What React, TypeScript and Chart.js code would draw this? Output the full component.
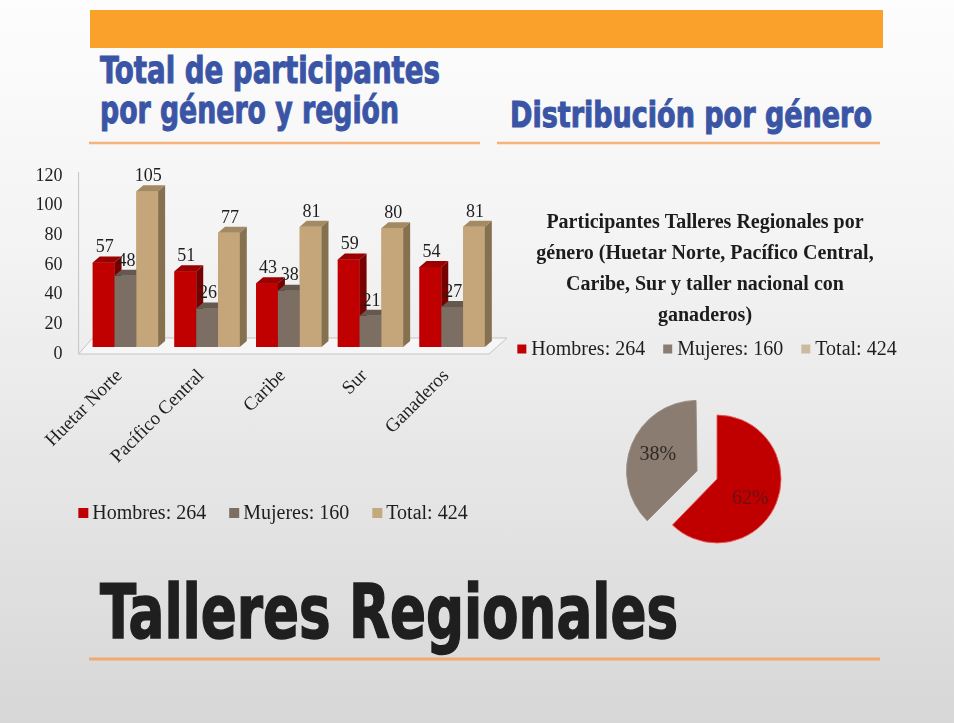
import React, { useEffect, useRef } from "react";
import { Chart, registerables } from "chart.js";
Chart.register(...registerables);

// ---------- data ----------
const regions = ["Huetar Norte", "Pacífico Central", "Caribe", "Sur", "Ganaderos"];
const seriesNames = ["Hombres", "Mujeres", "Total"];
const hombres = [57, 51, 43, 59, 54];
const mujeres = [48, 26, 38, 21, 27];
const totales = [105, 77, 81, 80, 81];
const genderTotals = [264, 160, 424];
const pieLabels = ["Hombres", "Mujeres"];
const pieValues = [264, 160];
const yMin = 0;
const yMax = 120;
const yStep = 20;
const pieTitle = [
  "Participantes Talleres Regionales por",
  "género (Huetar Norte, Pacífico Central,",
  "Caribe, Sur y taller nacional con",
  "ganaderos)",
];

// ---------- styles ----------
const SERIF = '"Liberation Serif", "Times New Roman", serif';
const COND = '"DejaVu Sans Condensed", "Liberation Sans Narrow", "DejaVu Sans", sans-serif';
const frontColors = ["#C00000", "#7D6E63", "#C4A67A"];
const topColors = ["#9A0000", "#65584E", "#A38A62"];
const sideColors = ["#780000", "#52463E", "#85704F"];
const legendColors = ["#C00000", "#7D6E63", "#C4A97F"];
const pieColors = ["#C00000", "#8A7C71"];
const pieLegendColors = ["#C00000", "#8A7C71", "#CBBB9E"];
const DX = 7;
const DY = -6;

function drawLegend(
  ctx: CanvasRenderingContext2D,
  items: { text: string; color: string }[],
  cx: number,
  cy: number,
  o: { size: number; box: number; gap: number; spacing: number; color: string }
) {
  ctx.save();
  ctx.font = `${o.size}px ${SERIF}`;
  ctx.textBaseline = "middle";
  ctx.textAlign = "left";
  const widths = items.map((it) => ctx.measureText(it.text).width);
  const total =
    widths.reduce((s, w) => s + o.box + o.gap + w, 0) + o.spacing * (items.length - 1);
  let x = cx - total / 2;
  items.forEach((it, i) => {
    ctx.fillStyle = it.color;
    ctx.fillRect(x, cy - o.box / 2, o.box, o.box);
    x += o.box + o.gap;
    ctx.fillStyle = o.color;
    ctx.fillText(it.text, x, cy + 1);
    x += widths[i] + o.spacing;
  });
  ctx.restore();
}

const bar3d = {
  id: "bar3d",
  beforeDatasetsDraw(chart: any) {
    const { ctx, chartArea: a, scales } = chart;
    const y = scales.y;
    const y0 = y.getPixelForValue(0);
    ctx.save();
    ctx.beginPath();
    ctx.moveTo(a.left - 6, y0 + 7);
    ctx.lineTo(a.right - 4, y0 + 7);
    ctx.lineTo(a.right + 14, y0 - 9);
    ctx.lineTo(a.left + 8, y0 - 9);
    ctx.closePath();
    ctx.fillStyle = "rgba(250,250,250,0.7)";
    ctx.fill();
    ctx.strokeStyle = "#c4c4c4";
    ctx.lineWidth = 1;
    ctx.stroke();
    ctx.beginPath();
    ctx.moveTo(a.left - 6, y.getPixelForValue(yMax) + 3);
    ctx.lineTo(a.left - 6, y0 + 7);
    ctx.stroke();
    ctx.restore();
  },
  afterDatasetsDraw(chart: any) {
    const { ctx } = chart;
    const n = chart.data.labels.length;
    const nd = chart.data.datasets.length;
    ctx.save();
    for (let j = 0; j < n; j++) {
      for (let i = 0; i < nd; i++) {
        const bar = chart.getDatasetMeta(i).data[j];
        const { x, y, width, base } = bar.getProps(["x", "y", "width", "base"], true);
        const l = x - width / 2;
        const r = x + width / 2;
        ctx.fillStyle = frontColors[i];
        ctx.fillRect(l, y, width, base - y);
        ctx.fillStyle = topColors[i];
        ctx.beginPath();
        ctx.moveTo(l, y);
        ctx.lineTo(l + DX, y + DY);
        ctx.lineTo(r + DX, y + DY);
        ctx.lineTo(r, y);
        ctx.closePath();
        ctx.fill();
        ctx.fillStyle = sideColors[i];
        ctx.beginPath();
        ctx.moveTo(r, y);
        ctx.lineTo(r + DX, y + DY);
        ctx.lineTo(r + DX, base + DY);
        ctx.lineTo(r, base);
        ctx.closePath();
        ctx.fill();
      }
    }
    ctx.font = `18px ${SERIF}`;
    ctx.fillStyle = "#1e1e1e";
    ctx.textAlign = "center";
    ctx.textBaseline = "middle";
    for (let i = 0; i < nd; i++) {
      const ds = chart.data.datasets[i];
      chart.getDatasetMeta(i).data.forEach((bar: any, j: number) => {
        const { x, y } = bar.getProps(["x", "y"], true);
        ctx.fillText(String(ds.data[j]), x + 1, y - 15);
      });
    }
    ctx.restore();
  },
  afterDraw(chart: any) {
    drawLegend(
      chart.ctx,
      seriesNames.map((s, i) => ({ text: `${s}: ${genderTotals[i]}`, color: legendColors[i] })),
      273,
      chart.height - 37,
      { size: 20, box: 10, gap: 4, spacing: 23, color: "#1e1e1e" }
    );
  },
};

const pieDecor = {
  id: "pieDecor",
  afterDatasetsDraw(chart: any) {
    const { ctx } = chart;
    const meta = chart.getDatasetMeta(0);
    const values = chart.data.datasets[0].data as number[];
    const sum = values.reduce((a, b) => a + b, 0);
    const colors = ["#6a1010", "#2e2a28"];
    ctx.save();
    ctx.font = `20px ${SERIF}`;
    ctx.textAlign = "center";
    ctx.textBaseline = "middle";
    meta.data.forEach((arc: any, i: number) => {
      const { x, y, startAngle, endAngle, outerRadius, circumference } = arc.getProps(
        ["x", "y", "startAngle", "endAngle", "outerRadius", "circumference"],
        true
      );
      const mid = (startAngle + endAngle) / 2;
      const off = (arc.options.offset || 0) / 4;
      const fix = 1 - Math.sin(Math.min(Math.PI, circumference));
      const t = off * (1 + fix);
      const rr = outerRadius * 0.56;
      ctx.fillStyle = colors[i];
      ctx.fillText(
        `${Math.round((values[i] / sum) * 100)}%`,
        x + Math.cos(mid) * (t + rr),
        y + Math.sin(mid) * (t + rr) + (i === 0 ? 6 : 0)
      );
    });
    ctx.restore();
  },
  afterDraw(chart: any) {
    const { ctx } = chart;
    ctx.save();
    ctx.font = `bold 20px ${SERIF}`;
    ctx.fillStyle = "#1c1c1c";
    ctx.textAlign = "center";
    ctx.textBaseline = "middle";
    pieTitle.forEach((line, k) => ctx.fillText(line, 215, 33 + 31 * k));
    ctx.restore();
    drawLegend(
      ctx,
      seriesNames.map((s, i) => ({ text: `${s}: ${genderTotals[i]}`, color: pieLegendColors[i] })),
      217,
      159,
      { size: 20, box: 9, gap: 5, spacing: 18, color: "#1e1e1e" }
    );
  },
};

function BarChart() {
  const ref = useRef<HTMLCanvasElement>(null);
  useEffect(() => {
    const seriesData = [hombres, mujeres, totales];
    const chart = new Chart(ref.current as HTMLCanvasElement, {
      type: "bar",
      data: {
        labels: regions,
        datasets: seriesNames.map((name, i) => ({
          label: name,
          data: seriesData[i],
          backgroundColor: frontColors[i],
          borderWidth: 0,
          categoryPercentage: 0.8,
          barPercentage: 1,
        })),
      },
      options: {
        responsive: false,
        animation: false,
        events: [],
        layout: { padding: { left: 35, right: 37, top: 19, bottom: 0 } },
        plugins: { legend: { display: false }, tooltip: { enabled: false } },
        scales: {
          x: {
            grid: { display: false, drawTicks: false },
            border: { display: false },
            ticks: {
              color: "#1e1e1e",
              font: { family: SERIF, size: 19 },
              minRotation: 45,
              maxRotation: 45,
              autoSkip: false,
              padding: 18,
              labelOffset: -6,
            },
            afterFit: (s: any) => {
              s.height = 203;
            },
          },
          y: {
            min: yMin,
            max: yMax,
            grid: { display: false, drawTicks: false },
            border: { display: false },
            ticks: {
              stepSize: yStep,
              color: "#1e1e1e",
              font: { family: SERIF, size: 18 },
              padding: 22,
              labelOffset: 7,
            },
            afterFit: (s: any) => {
              s.width = 49.6;
              s.paddingTop = 0;
              s.paddingBottom = 0;
            },
          },
        },
      } as any,
      plugins: [bar3d],
    });
    return () => chart.destroy();
  }, []);
  return (
    <canvas
      ref={ref}
      width={530}
      height={400}
      style={{ position: "absolute", left: 0, top: 150, width: 530, height: 400 }}
    />
  );
}

function PieChart() {
  const ref = useRef<HTMLCanvasElement>(null);
  useEffect(() => {
    const chart = new Chart(ref.current as HTMLCanvasElement, {
      type: "pie",
      data: {
        labels: pieLabels,
        datasets: [
          {
            data: pieValues,
            backgroundColor: pieColors,
            borderColor: ["rgba(235,90,90,0.9)", "rgba(150,138,128,0.9)"],
            borderWidth: 1,
            offset: [0, 86],
            radius: 64,
          } as any,
        ],
      },
      options: {
        responsive: false,
        animation: false,
        events: [],
        layout: { padding: { left: 24, right: 10, top: 190, bottom: 2 } },
        plugins: { legend: { display: false }, tooltip: { enabled: false } },
      } as any,
      plugins: [pieDecor],
    });
    return () => chart.destroy();
  }, []);
  return (
    <canvas
      ref={ref}
      width={440}
      height={390}
      style={{ position: "absolute", left: 490, top: 190, width: 440, height: 390 }}
    />
  );
}

export default function App() {
  return (
    <div
      style={{
        position: "fixed",
        left: 0,
        top: 0,
        width: 954,
        height: 723,
        overflow: "hidden",
        background: "linear-gradient(180deg, #fdfdfd 0%, #f3f3f3 35%, #e4e4e4 70%, #d7d7d7 100%)",
      }}
    >
      <svg
        width={954}
        height={723}
        style={{ position: "absolute", left: 0, top: 0 }}
        xmlns="http://www.w3.org/2000/svg"
      >
        <rect x={90} y={10} width={793} height={38} fill="#F9A12B" />
        <g
          fontFamily={COND}
          fontWeight="bold"
          fill="#3A55A5"
          stroke="#3A55A5"
          strokeWidth={1}
        >
          <text x={100} y={83} fontSize={38} textLength={340} lengthAdjust="spacingAndGlyphs">
            Total de participantes
          </text>
          <text x={100} y={123} fontSize={38} textLength={299} lengthAdjust="spacingAndGlyphs">
            por género y región
          </text>
          <text x={510} y={127} fontSize={35} textLength={362} lengthAdjust="spacingAndGlyphs">
            Distribución por género
          </text>
        </g>
        <text
          x={100}
          y={638}
          fontFamily={COND}
          fontWeight="bold"
          fontSize={75}
          fill="#1f1f1f"
          stroke="#1f1f1f"
          strokeWidth={1.5}
          textLength={578}
          lengthAdjust="spacingAndGlyphs"
        >
          Talleres Regionales
        </text>
        <line x1={89} y1={143} x2={480} y2={143} stroke="#F5B47C" strokeWidth={2.5} />
        <line x1={497} y1={143} x2={880} y2={143} stroke="#F5B47C" strokeWidth={2.5} />
        <line x1={89} y1={659} x2={880} y2={659} stroke="#F2A96E" strokeWidth={3} />
      </svg>
      <BarChart />
      <PieChart />
    </div>
  );
}
